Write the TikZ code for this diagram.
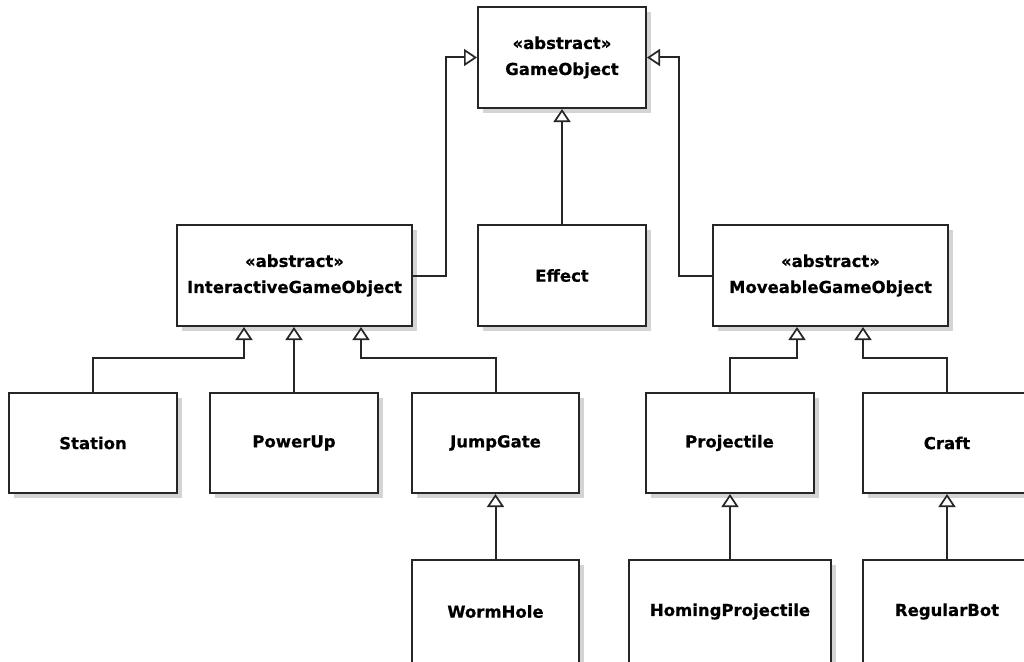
\documentclass[tikz,border=0pt]{standalone}
\usepackage{fontspec}
\newfontfamily\umlfont{DejaVu Sans}[BoldFeatures={FakeBold=0.5}]
\usetikzlibrary{arrows.meta,shadows}
\tikzset{
  cls/.style={draw=black!85, line width=2pt, fill=white, align=center,
    font=\umlfont\bfseries\fontsize{16.5}{26}\selectfont, inner sep=0pt,
    minimum width=168pt, minimum height=101pt,
    drop shadow={shadow xshift=5pt, shadow yshift=-5pt, fill=black!17, opacity=1}},
  inh/.style={draw=black!85, line width=2pt, -{Triangle[open, width=17pt, length=13pt, fill=white, line width=1.7pt]}},
}
\begin{document}
\begin{tikzpicture}[x=1pt, y=-1pt]
\useasboundingbox (0,0) rectangle (1024,661);
\clip (0,0) rectangle (1024,661);
\fill[white] (0,0) rectangle (1024,661);
\node[cls] (GO) at (562,57.5) {«abstract»\\GameObject};
\node[cls, minimum width=235pt] (IGO) at (294.5,275.5) {«abstract»\\InteractiveGameObject};
\node[cls] (EF) at (562,275.5) {Effect};
\node[cls, minimum width=235pt] (MGO) at (830.5,275.5) {«abstract»\\MoveableGameObject};
\node[cls, minimum height=100pt] (ST) at (93,443) {Station};
\node[cls, minimum height=100pt] (PU) at (294,443) {PowerUp};
\node[cls, minimum height=100pt, minimum width=167pt] (JG) at (495.5,443) {JumpGate};
\node[cls, minimum height=100pt] (PR) at (729.5,443) {Projectile};
\node[cls, minimum height=100pt] (CR) at (947,443) {Craft};
\node[cls, minimum height=103pt, minimum width=167pt] (WH) at (495.5,611.5) {WormHole};
\node[cls, minimum height=103pt, minimum width=202pt] (HP) at (730,611.5) {HomingProjectile};
\node[cls, minimum height=103pt] (RB) at (947,611.5) {RegularBot};
% connectors
\draw[inh] (IGO.east) -- ++(33,0) |- (GO.west);
\draw[inh] (MGO.west) -- ++(-33,0) |- (GO.east);
\draw[inh] (EF.north) -- (GO.south);
\draw[inh] (ST.north) -- ++(0,-34) -| ([xshift=-50.5pt]IGO.south);
\draw[inh] (PU.north) -- (PU.north |- IGO.south);
\draw[inh] (JG.north) -- ++(0,-34) -| ([xshift=66.5pt]IGO.south);
\draw[inh] (PR.north) -- ++(0,-34) -| ([xshift=-33.5pt]MGO.south);
\draw[inh] (CR.north) -- ++(0,-34) -| ([xshift=32.5pt]MGO.south);
\draw[inh] (WH.north) -- (JG.south);
\draw[inh] (HP.north) -- (HP.north |- PR.south);
\draw[inh] (RB.north) -- (CR.south);
\end{tikzpicture}
\end{document}
